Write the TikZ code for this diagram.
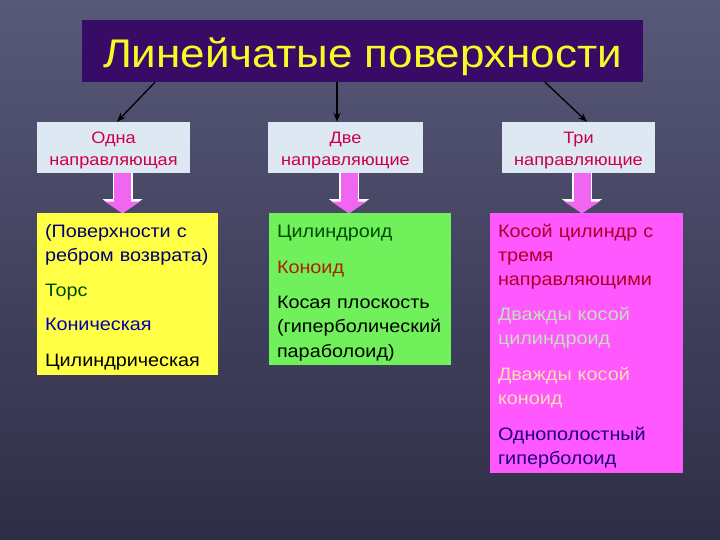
\documentclass[tikz,border=0pt]{standalone}
\usepackage{fontspec}
\setmainfont{Liberation Sans}[FakeStretch=1.1]
\usetikzlibrary{positioning,arrows.meta}
\definecolor{bgtop}{RGB}{88,88,122}
\definecolor{bgbottom}{RGB}{46,46,70}
\definecolor{titleviolet}{RGB}{56,12,102}
\definecolor{titleyellow}{RGB}{250,248,40}
\definecolor{headblue}{RGB}{222,232,242}
\definecolor{headred}{RGB}{204,0,70}
\definecolor{arrowpink}{RGB}{240,102,240}
\definecolor{listyellow}{RGB}{255,255,70}
\definecolor{listgreen}{RGB}{112,240,90}
\definecolor{listmagenta}{RGB}{255,88,255}
\definecolor{navytext}{RGB}{0,0,110}
\definecolor{bluetext}{RGB}{0,0,175}
\definecolor{greentext}{RGB}{0,75,0}
\definecolor{redtext}{RGB}{180,30,0}
\definecolor{winetext}{RGB}{170,0,35}
\definecolor{palegreen}{RGB}{200,220,190}
\definecolor{palepeach}{RGB}{250,222,180}
\definecolor{indigotext}{RGB}{30,0,130}
\tikzset {
heading/.style={shape=rectangle,fill=titleviolet,text=titleyellow,inner sep=0pt,minimum width=561pt,minimum height=62pt,text height=34pt,text depth=0pt,font=\fontsize{40}{44}\selectfont},
directrix/.style={shape=rectangle,fill=headblue,text=headred,align=center,inner sep=0pt,minimum height=51pt,text height=40pt,text depth=3pt,font=\fontsize{16.5}{22}\selectfont},
surfaces/.style={shape=rectangle,align=left,inner xsep=8pt,inner ysep=0pt,text height=24pt,font=\fontsize{18}{24.5}\selectfont},
pointer/.style={-{Stealth[length=9pt,width=7pt]},line width=1.3pt,black},
blockback/.style={-{Triangle[width=40pt,length=14pt,line width=0pt]},line width=20pt,white},
blockfront/.style={-{Triangle[width=35pt,length=11.5pt,line width=0pt]},line width=17pt,arrowpink}
}
\begin{document}
\begin{tikzpicture}
[x=1pt,y=1pt]
\shade[top color=bgtop,bottom color=bgbottom] (0,0) rectangle (720,540);
\useasboundingbox (0,0) rectangle (720,540);
\node[heading] (title) at (362.5,489) {Линейчатые поверхности};
\node[directrix,minimum width=153pt] (one dir) at (113.5,392.5) {Одна\\направляющая};
\node[directrix,minimum width=155pt] (two dir) at (345.5,392.5) {Две\\направляющие};
\node[directrix,minimum width=153pt] (three dir) at (578.5,392.5) {Три\\направляющие};
\node[surfaces,fill=listyellow,text width=165pt,text depth=138pt] (one list) [below right=40pt and 0pt of one dir.south west]
 {\textcolor{navytext}{(Поверхности с}\\\textcolor{navytext}{ребром возврата)}\\[10pt]
  \textcolor{greentext}{Торс}\\[10pt]\textcolor{bluetext}{Коническая}\\[11pt]Цилиндрическая};
\node[surfaces,fill=listgreen,text width=166pt,text depth=128pt] (two list) [below right=40pt and 1pt of two dir.south west]
 {\textcolor{greentext}{Цилиндроид}\\[11.5pt]\textcolor{redtext}{Коноид}\\[10.5pt]
  Косая плоскость\\(гиперболический\\параболоид)};
\node[surfaces,fill=listmagenta,text width=177pt,text depth=236pt,font=\fontsize{18}{24}\selectfont] (three list) [below right=40pt and -12pt of three dir.south west]
 {\textcolor{winetext}{Косой цилиндр с}\\\textcolor{winetext}{тремя}\\\textcolor{winetext}{направляющими}\\[11pt]
  \textcolor{palegreen}{Дважды косой}\\\textcolor{palegreen}{цилиндроид}\\[12pt]
  \textcolor{palepeach}{Дважды косой}\\\textcolor{palepeach}{коноид}\\[12pt]
  \textcolor{indigotext}{Однополостный}\\\textcolor{indigotext}{гиперболоид}};

\draw[pointer] ([xshift=-207.5pt]title.south) to ([xshift=3.5pt]one dir.north);
\draw[pointer] ([xshift=-25.5pt]title.south) to ([xshift=-8.5pt]two dir.north);
\draw[pointer] ([xshift=182.5pt]title.south) to ([xshift=8.5pt]three dir.north);
\draw[blockback] ([xshift=9pt]one dir.south) to ([xshift=9pt]one dir.south |- one list.north);
\draw[blockfront] ([xshift=9pt]one dir.south) to ([xshift=9pt]one dir.south |- one list.north);
\draw[blockback] ([xshift=3.5pt]two dir.south) to ([xshift=3.5pt]two dir.south |- two list.north);
\draw[blockfront] ([xshift=3.5pt]two dir.south) to ([xshift=3.5pt]two dir.south |- two list.north);
\draw[blockback] ([xshift=3.5pt]three dir.south) to ([xshift=3.5pt]three dir.south |- three list.north);
\draw[blockfront] ([xshift=3.5pt]three dir.south) to ([xshift=3.5pt]three dir.south |- three list.north);
\end{tikzpicture}
\end{document}
